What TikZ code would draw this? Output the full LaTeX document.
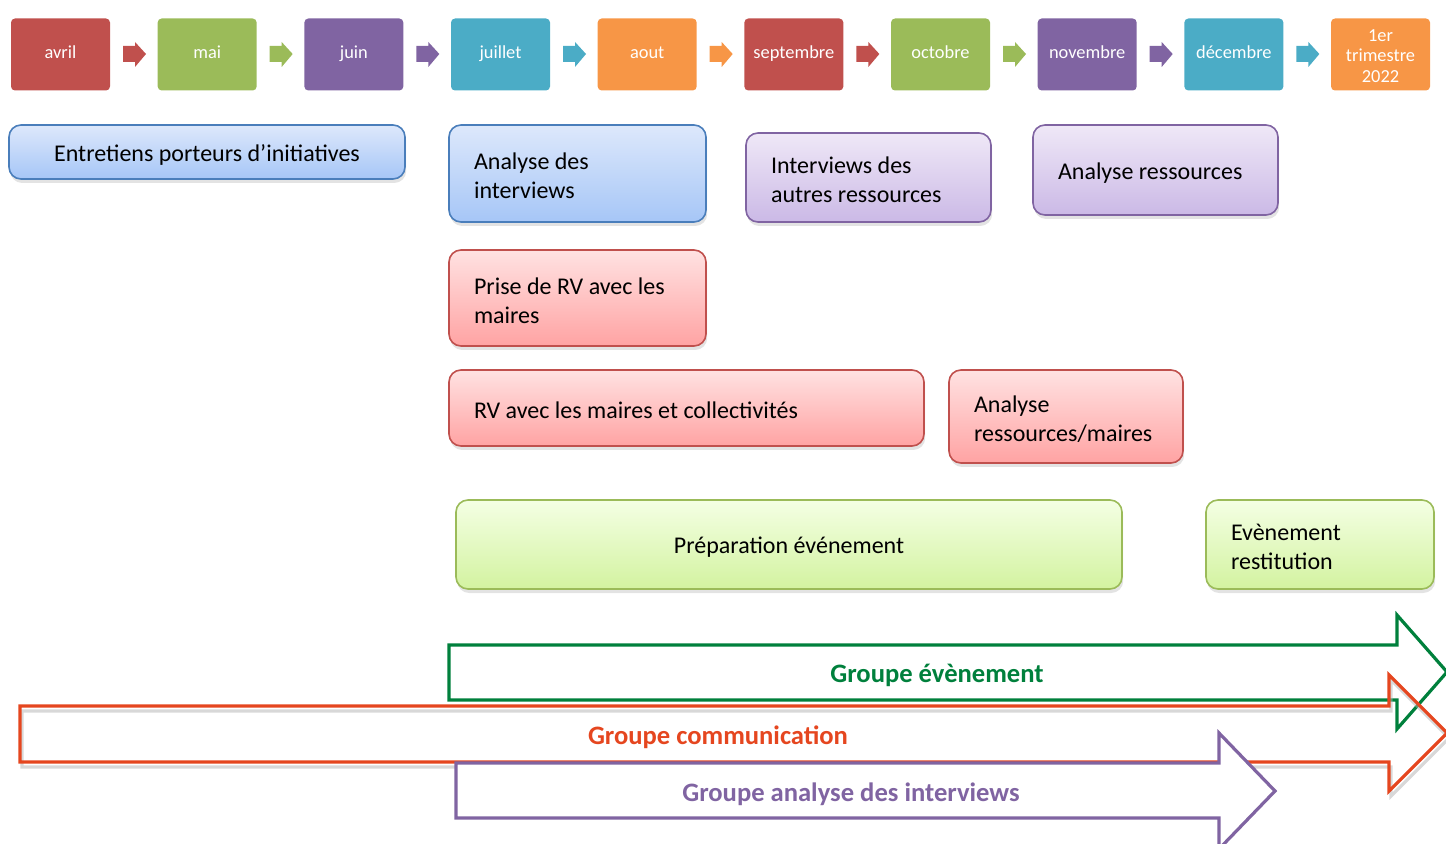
\documentclass[tikz,border=0pt]{standalone}
\usepackage{fontspec}
\setmainfont{Carlito}
\usetikzlibrary{shadows}

% month colours
\definecolor{mRouge}{HTML}{C0504D}
\definecolor{mVert}{HTML}{9BBB59}
\definecolor{mViolet}{HTML}{8064A2}
\definecolor{mCyan}{HTML}{4BACC6}
\definecolor{mOrange}{HTML}{F79646}
% task box colours
\definecolor{hautBleu}{HTML}{DDE8FB}
\definecolor{basBleu}{HTML}{A6C6F7}
\definecolor{bordBleu}{HTML}{4A7EBB}
\definecolor{hautViolet}{HTML}{EFE8F7}
\definecolor{basViolet}{HTML}{CBB9E6}
\definecolor{hautRouge}{HTML}{FFE2E2}
\definecolor{basRouge}{HTML}{FFA3A3}
\definecolor{hautVert}{HTML}{F4FFE4}
\definecolor{basVert}{HTML}{D3F3A0}
% group arrows
\definecolor{gVert}{HTML}{00803C}
\definecolor{gRouge}{HTML}{E5461F}
\definecolor{gViolet}{HTML}{8064A2}

% extra room above the first line, so text sits like in the slide
\newcommand\haut{\rule{0pt}{11pt}}

\begin{document}
\begin{tikzpicture}[%
    x=0.5pt, y=-0.5pt,                     % work on the pixel grid of the slide
    font=\fontsize{12}{14.5}\selectfont,   % Calibri-like body text
    ]
% -------------------------------------------------
% Styles for months, tasks and groups
\tikzset{
  mois/.style={rounded corners=2pt, minimum width=49.5pt, minimum height=36pt,
    inner sep=0pt, align=center, text=white, font=\fontsize{9.2}{10.25}\selectfont},
  tache/.style={draw, line width=0.8pt, rounded corners=6pt, inner xsep=12.5pt,
    inner ysep=0pt, align=flush left,
    drop shadow={opacity=0.22, shadow xshift=0.6pt, shadow yshift=-2pt}},
  bleu/.style={tache, draw=bordBleu, top color=hautBleu, bottom color=basBleu},
  violet/.style={tache, draw=mViolet, top color=hautViolet, bottom color=basViolet},
  rose/.style={tache, draw=mRouge, top color=hautRouge, bottom color=basRouge},
  vert/.style={tache, draw=mVert, top color=hautVert, bottom color=basVert},
  groupe/.style={line width=1.6pt, miter limit=20},
  etiq/.style={font=\fontsize{13.3}{15}\selectfont\bfseries}
}
\useasboundingbox (0,0) rectangle (1446,844);
% -------------------------------------------------
% Months on top, with the small arrows between them
\foreach \nom/\coul [count=\i from 0] in {avril/mRouge, mai/mVert, juin/mViolet,
    juillet/mCyan, aout/mOrange, septembre/mRouge, octobre/mVert,
    novembre/mViolet, décembre/mCyan, {1er\\trimestre\\2022}/mOrange}
  \node[mois, fill=\coul] (m\i) at (60.5+146.67*\i, 54.5) {\strut\nom};

\foreach \coul [count=\i from 0] in {mRouge, mVert, mViolet, mCyan, mOrange,
    mRouge, mVert, mViolet, mCyan}
  \fill[\coul] (134+146.67*\i-11,46) -- ++(12,0) -- ++(0,-4) -- ++(11,12)
    -- ++(-11,13) -- ++(0,-5) -- ++(-12,0) -- cycle;

% -------------------------------------------------
% Tasks
\node[bleu, minimum width=198pt, minimum height=27pt, align=center] (entretiens)
  at (207,152) {\haut Entretiens porteurs d’initiatives};
\node[bleu, text width=103.5pt, minimum height=48.5pt] (analyseItw)
  at (577.5,173.5) {\haut Analyse des\\interviews};
\node[violet, text width=97.5pt, minimum height=44.5pt] (itwRess)
  at (868.5,177.5) {\haut Interviews des\\autres ressources};
\node[violet, text width=97.5pt, minimum height=45pt] (analyseRess)
  at (1155.5,170) {\haut Analyse ressources};
\node[rose, text width=103.5pt, minimum height=48pt] (priseRV)
  at (577.5,298) {\haut Prise de RV avec les\\maires};
\node[rose, text width=212.5pt, minimum height=38pt] (rvMaires)
  at (686.5,408) {\haut RV avec les maires et collectivités};
\node[rose, text width=92pt, minimum height=46.5pt] (analyseMaires)
  at (1066,416.5) {\haut Analyse\\ressources/maires};
\node[vert, minimum width=333pt, minimum height=44.5pt, align=center] (prepa)
  at (789,544.5) {\haut Préparation événement};
\node[vert, text width=89pt, minimum height=44.5pt] (restitution)
  at (1320,544.5) {\haut Evènement\\restitution};

% -------------------------------------------------
% Working groups as outlined block arrows
\draw[groupe, draw=gVert] (449,645) -- (1397,645) -- (1397,615) -- (1447,672)
  -- (1397,729) -- (1397,700) -- (449,700) -- cycle;
\node[etiq, text=gVert] (gEvenement) at (937,676) {\strut Groupe évènement};

\draw[groupe, draw=black!30, opacity=0.5, shift={(2,5)}] (20,706) -- (1389,706)
  -- (1389,675) -- (1447,733) -- (1389,791) -- (1389,762) -- (20,762) -- cycle;
\draw[groupe, draw=gRouge] (20,706) -- (1389,706) -- (1389,675) -- (1447,733)
  -- (1389,791) -- (1389,762) -- (20,762) -- cycle;
\node[etiq, text=gRouge] (gCommunication) at (718,738) {\strut Groupe communication};

\draw[groupe, draw=gViolet, fill=white] (456,763) -- (1219,763) -- (1219,733)
  -- (1275,791) -- (1219,849) -- (1219,818) -- (456,818) -- cycle;
\node[etiq, text=gViolet] (gAnalyse) at (851,795) {\strut Groupe analyse des interviews};
% -------------------------------------------------
\end{tikzpicture}
\end{document}
